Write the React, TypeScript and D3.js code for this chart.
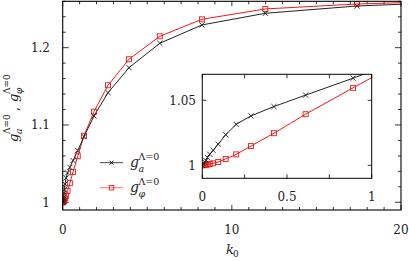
import React from "react";
import * as d3 from "d3";

// k0 grid (shared by both curves)
const k0 = [0, 0.007, 0.014, 0.021, 0.03, 0.044, 0.064, 0.094, 0.138, 0.2, 0.287, 0.423, 0.61, 0.89, 1.26, 1.85, 2.68, 3.92, 5.74, 8.23, 11.98, 17.4, 25];
const gA = [1.0, 1.0012, 1.0025, 1.0038, 1.006, 1.0085, 1.0115, 1.0163, 1.0235, 1.0315, 1.038, 1.0452, 1.054, 1.067, 1.085, 1.1116, 1.1418, 1.1741, 1.2057, 1.2294, 1.2445, 1.2539, 1.2605];
const gPhi = [1.0, 1.0001, 1.0002, 1.0003, 1.0006, 1.001, 1.0015, 1.0026, 1.0049, 1.0084, 1.0148, 1.0247, 1.0393, 1.0596, 1.086, 1.1172, 1.1514, 1.185, 1.2147, 1.2367, 1.2501, 1.2565, 1.2615];

const mainXTicks = [0, 10, 20];
const mainYTicks = [1, 1.1, 1.2];
const insetXTicks = [0, 0.5, 1];
const insetYTicks = [1, 1.05];

const FONT = "DejaVu Serif";
const RED = "#f01818";
const DARK = "#222";

type Pt = [number, number];

const Cross = ({ x, y, s = 2.6, color }: { x: number; y: number; s?: number; color: string }) => (
  <path d={`M${x - s},${y - s}L${x + s},${y + s}M${x - s},${y + s}L${x + s},${y - s}`} stroke={color} strokeWidth={0.9} fill="none" />
);

const Square = ({ x, y, s = 2.5, color }: { x: number; y: number; s?: number; color: string }) => (
  <rect x={x - s} y={y - s} width={2 * s} height={2 * s} stroke={color} strokeWidth={0.9} fill="none" />
);

const Curves = ({ x, y, clipId }: { x: d3.ScaleLinear<number, number>; y: d3.ScaleLinear<number, number>; clipId: string }) => {
  const line = d3.line<Pt>().x(d => x(d[0])).y(d => y(d[1]));
  const a: Pt[] = k0.map((k, i) => [k, gA[i]]);
  const p: Pt[] = k0.map((k, i) => [k, gPhi[i]]);
  return (
    <g clipPath={`url(#${clipId})`}>
      <path d={line(p) || ""} stroke={RED} strokeWidth={1} fill="none" />
      <path d={line(a) || ""} stroke={DARK} strokeWidth={1} fill="none" />
      {p.map((d, i) => <Square key={`p${i}`} x={x(d[0])} y={y(d[1])} color={RED} />)}
      {a.map((d, i) => <Cross key={`a${i}`} x={x(d[0])} y={y(d[1])} color={DARK} />)}
    </g>
  );
};

const App = () => {
  const x = d3.scaleLinear().domain([0, 20]).range([62.7, 401]);
  const y = d3.scaleLinear().domain([0.99, 1.26]).range([210, 1.3]);
  const ix = d3.scaleLinear().domain([0, 1]).range([202.3, 371.7]);
  const iy = d3.scaleLinear().domain([0.99, 1.07]).range([178.3, 74.3]);

  const [x0, x1] = x.range();
  const [y0, y1] = y.range();
  const [ix0, ix1] = ix.range();
  const [iy0, iy1] = iy.range();

  const xMinor = d3.range(0, 21, 1);
  const yMinor = d3.range(1, 1.261, 0.02);
  const ixMinor = d3.range(0, 1.01, 0.25);

  return (
    <div style={{ position: "fixed", left: 0, top: 0 }}>
      <svg width={409} height={261} style={{ display: "block", background: "#fff" }}>
        <defs>
          <clipPath id="mainClip"><rect x={x0} y={y1} width={x1 - x0} height={y0 - y1} /></clipPath>
          <clipPath id="insetClip"><rect x={ix0} y={iy1} width={ix1 - ix0} height={iy0 - iy1} /></clipPath>
        </defs>

        {/* main ticks */}
        <g stroke="#000" strokeWidth={0.8}>
          {xMinor.map(t => {
            const len = t % 10 === 0 ? 5 : 3;
            return (
              <g key={`xt${t}`}>
                <line x1={x(t)} x2={x(t)} y1={y0} y2={y0 - len} />
                <line x1={x(t)} x2={x(t)} y1={y1} y2={y1 + len} />
              </g>
            );
          })}
          {yMinor.map((t, i) => {
            const len = i % 5 === 0 ? 6 : 3;
            return (
              <g key={`yt${i}`}>
                <line x1={x0} x2={x0 + len} y1={y(t)} y2={y(t)} />
                <line x1={x1} x2={x1 - len} y1={y(t)} y2={y(t)} />
              </g>
            );
          })}
        </g>

        <Curves x={x} y={y} clipId="mainClip" />
        <rect x={x0} y={y1} width={x1 - x0} height={y0 - y1} fill="none" stroke="#000" strokeWidth={1.1} />

        {/* main tick labels */}
        <g fontSize={12} fill="#222" fontFamily={FONT}>
          {mainXTicks.map(t => (
            <text key={`xl${t}`} x={x(t)} y={234} textAnchor="middle">{t}</text>
          ))}
          {mainYTicks.map(t => (
            <text key={`yl${t}`} x={50} y={y(t) + 4.5} textAnchor="end">{t}</text>
          ))}
        </g>

        {/* axis titles */}
        <g fill="#222" fontFamily={FONT}>
          <text x={226} y={254} fontSize={13} fontStyle="italic">k</text>
          <text x={233} y={257} fontSize={9}>0</text>
        </g>
        <g transform="translate(18,142) rotate(-90)" fill="#222" fontFamily={FONT}>
          <text x={0} y={0} fontSize={13} fontStyle="italic">g</text>
          <text x={8} y={-8} fontSize={9}>Λ=0</text>
          <text x={8} y={4} fontSize={9} fontStyle="italic">a</text>
          <text x={31} y={0} fontSize={13}>,</text>
          <text x={40} y={0} fontSize={13} fontStyle="italic">g</text>
          <text x={48} y={-8} fontSize={9}>Λ=0</text>
          <text x={48} y={4} fontSize={9} fontStyle="italic">φ</text>
        </g>

        {/* legend */}
        <g>
          <line x1={100} x2={123} y1={162.7} y2={162.7} stroke="#444" strokeWidth={1} />
          <Cross x={111.5} y={162.7} s={2} color="#000" />
          <g fill="#222" fontFamily={FONT}>
            <text x={130} y={167} fontSize={14} fontStyle="italic">g</text>
            <text x={138.5} y={160} fontSize={9.5}>Λ=0</text>
            <text x={138.5} y={172} fontSize={9.5} fontStyle="italic">a</text>
          </g>
          <line x1={100} x2={123} y1={187.7} y2={187.7} stroke="#f88" strokeWidth={1.2} />
          <Square x={111.5} y={187.7} s={2.3} color={RED} />
          <g fill="#222" fontFamily={FONT}>
            <text x={130} y={192} fontSize={14} fontStyle="italic">g</text>
            <text x={138.5} y={185} fontSize={9.5}>Λ=0</text>
            <text x={138.5} y={197} fontSize={9.5} fontStyle="italic">φ</text>
          </g>
        </g>

        {/* inset */}
        <rect x={ix0} y={iy1} width={ix1 - ix0} height={iy0 - iy1} fill="#fff" />
        <g stroke="#000" strokeWidth={0.8}>
          {ixMinor.map(t => (
            <g key={`ixt${t}`}>
              <line x1={ix(t)} x2={ix(t)} y1={iy0} y2={iy0 - 4} />
              <line x1={ix(t)} x2={ix(t)} y1={iy1} y2={iy1 + 4} />
            </g>
          ))}
          {insetYTicks.map(t => (
            <g key={`iyt${t}`}>
              <line x1={ix0} x2={ix0 + 4} y1={iy(t)} y2={iy(t)} />
              <line x1={ix1} x2={ix1 - 4} y1={iy(t)} y2={iy(t)} />
            </g>
          ))}
        </g>
        <Curves x={ix} y={iy} clipId="insetClip" />
        <rect x={ix0} y={iy1} width={ix1 - ix0} height={iy0 - iy1} fill="none" stroke="#000" strokeWidth={1} />
        <g fontSize={12} fill="#222" fontFamily={FONT}>
          {insetXTicks.map(t => (
            <text key={`ixl${t}`} x={ix(t)} y={201} textAnchor="middle">{t}</text>
          ))}
          {insetYTicks.map(t => (
            <text key={`iyl${t}`} x={196} y={iy(t) + 4.5} textAnchor="end">{t}</text>
          ))}
        </g>
      </svg>
    </div>
  );
};

export default App;
